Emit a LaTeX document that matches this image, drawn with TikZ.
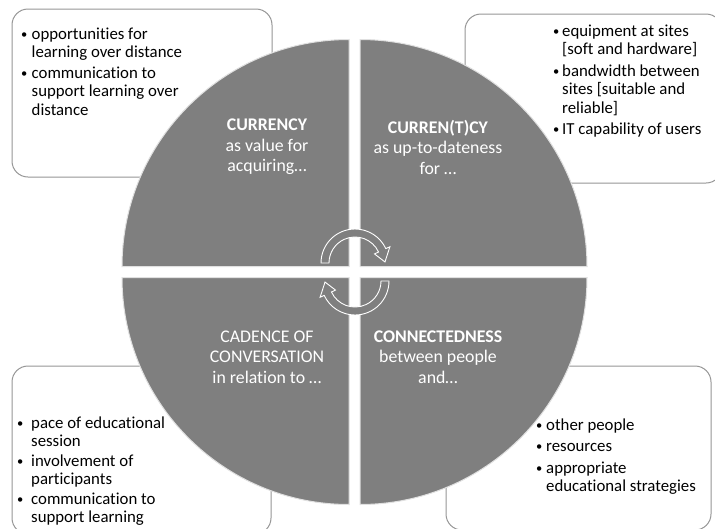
\documentclass[tikz,border=0pt]{standalone}
\usepackage{fontspec}
\setmainfont{Carlito}[Ligatures=NoCommon]
\usetikzlibrary{calc}
\definecolor{quadgray}{RGB}{127,127,127}
\definecolor{framegray}{RGB}{150,150,150}
% small list bullet in a box of given width
\newcommand\dotmark[1]{\makebox[#1][l]{\raisebox{0.12ex}{\fontsize{12.5}{12.5}\selectfont\textbullet}}}
\begin{document}
\begin{tikzpicture}[x=1pt,y=-1pt,
  panel/.style={draw=framegray, line width=1pt, fill=white, rounded corners=16pt},
  quad/.style={fill=quadgray, draw=white!88!black, line width=1pt},
  cyc/.style={fill=quadgray, draw=white, line width=0.9pt, line join=miter},
  blist/.style={anchor=base west, inner sep=0pt, font=\fontsize{16.8}{18.5}\selectfont},
  qtext/.style={text=white, align=center, inner sep=0pt, font=\fontsize{17.8}{20.5}\selectfont}
]
\useasboundingbox (0,0) rectangle (715,528);
\clip (0,0) rectangle (715,528);

% framed note boxes behind the wheel
\draw[panel] (12,9) rectangle (272,177);
\draw[panel] (465,14) rectangle (722,183);
\draw[panel] (12,366) rectangle (271,534);
\draw[panel] (446,366) rectangle (711,530);

% four quarter pieces of the wheel
\path[quad] (349,266.5) -- ++(-227,0) arc[start angle=180, end angle=270, radius=227] -- cycle;
\path[quad] (360,266.5) -- ++(0,-227) arc[start angle=270, end angle=360, radius=227] -- cycle;
\path[quad] (360,277.5) -- ++(227,0) arc[start angle=0, end angle=90, radius=227] -- cycle;
\path[quad] (349,277.5) -- ++(0,227) arc[start angle=90, end angle=180, radius=227] -- cycle;

% circular arrows in the middle
\coordinate (ca) at (355,263);
\coordinate (cb) at (355,281);
\path[cyc] ($(ca)+(180:34)$) arc[start angle=180, end angle=335, radius=34]
  -- ($(ca)+(335:38.5)$) -- ($(ca)+(358:30)$) -- ($(ca)+(335:21.5)$)
  -- ($(ca)+(335:26)$) arc[start angle=335, end angle=180, radius=26] -- cycle;
\path[cyc] ($(cb)+(0:34)$) arc[start angle=0, end angle=155, radius=34]
  -- ($(cb)+(155:38.5)$) -- ($(cb)+(178:30)$) -- ($(cb)+(155:21.5)$)
  -- ($(cb)+(155:26)$) arc[start angle=155, end angle=0, radius=26] -- cycle;

% labels of the quarters
\node[qtext] (cur) at (267,147) {\textbf{CURRENCY}\\as value for\\acquiring\ldots};
\node[qtext] (curt) at (438,147) {\textbf{CURREN(T)CY}\\as up-to-dateness\\for \ldots};
\node[qtext] (cad) at (267,357) {CADENCE OF\\CONVERSATION\\in relation to \ldots};
\node[qtext] (con) at (438,357) {\textbf{CONNECTEDNESS}\\between people\\and\ldots};

% bullet lists
\node[blist] (tl) at (21,39) {\begin{tabular}[t]{@{}l@{}l@{}}
\dotmark{10.5pt} & opportunities for\\
 & learning over distance\\[2pt]
\dotmark{10.5pt} & communication to\\
 & support learning over\\
 & distance
\end{tabular}};
\node[blist] (tr) at (553,36) {\begin{tabular}[t]{@{}l@{}l@{}}
\dotmark{9pt} & equipment at sites\\
 & [soft and hardware]\\[3pt]
\dotmark{9pt} & bandwidth between\\
 & sites [suitable and\\
 & reliable]\\[3pt]
\dotmark{9pt} & IT capability of users
\end{tabular}};
\node[blist] (bl) at (17,428) {\begin{tabular}[t]{@{}l@{}l@{}}
\dotmark{14pt} & pace of educational\\
 & session\\[1pt]
\dotmark{14pt} & involvement of\\
 & participants\\[1pt]
\dotmark{14pt} & communication to\\
 & support learning
\end{tabular}};
\node[blist] (br) at (536,430) {\begin{tabular}[t]{@{}l@{}l@{}}
\dotmark{10pt} & other people\\[3pt]
\dotmark{10pt} & resources\\[3pt]
\dotmark{10pt} & appropriate\\
 & educational strategies
\end{tabular}};
\end{tikzpicture}
\end{document}
